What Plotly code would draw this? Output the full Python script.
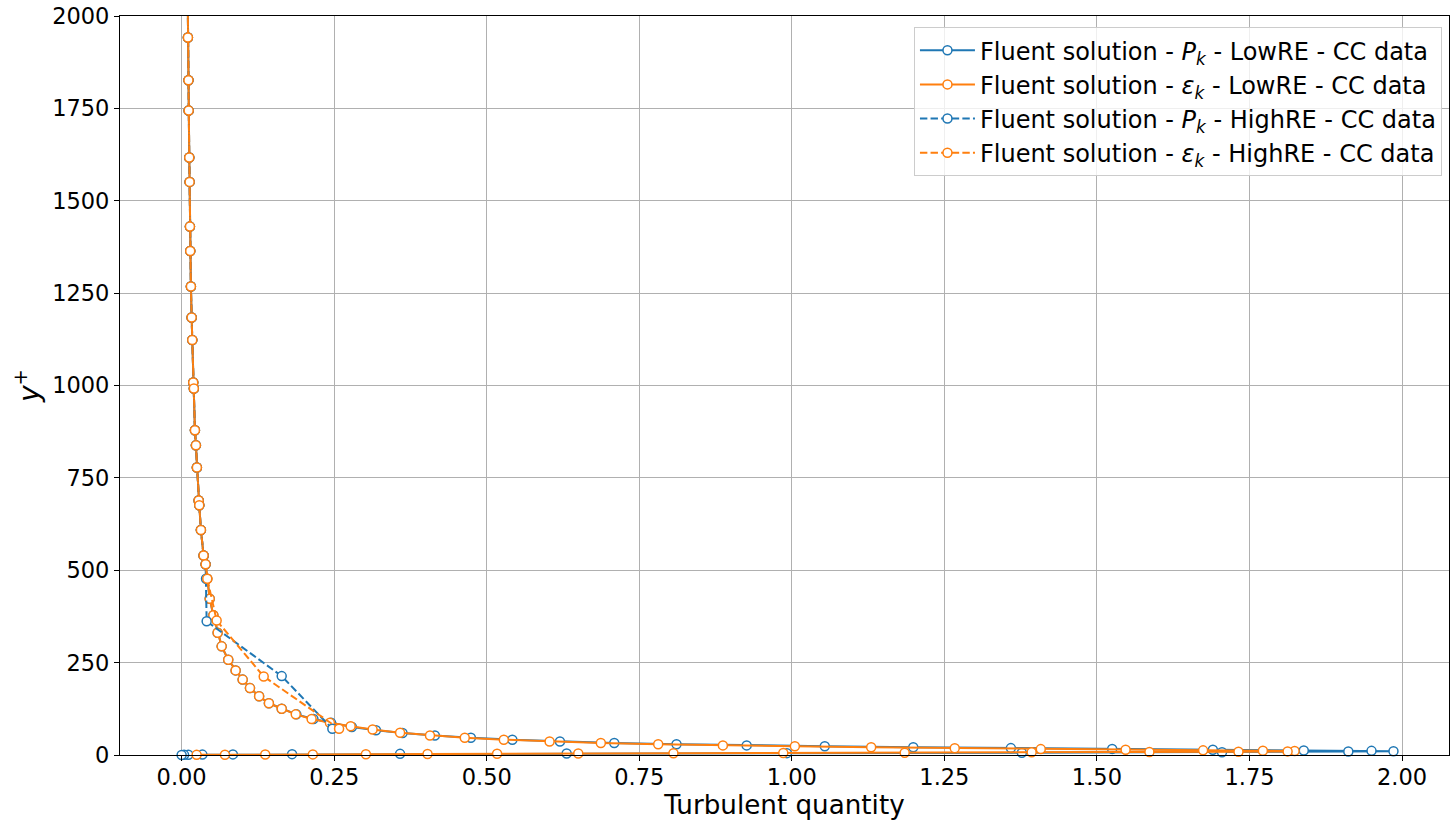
import plotly.graph_objects as go

# Far-field cells shared by every profile (y+ above ~500)
far_y = [2080, 1942, 1826, 1744, 1617, 1551, 1430, 1364, 1268, 1184, 1123,
         1008, 992, 879, 838, 778, 689, 676, 609, 540, 516]
far_x = [0.0098, 0.0103, 0.0112, 0.0115, 0.0125, 0.0131, 0.0136, 0.0141, 0.0152,
         0.0164, 0.0174, 0.0190, 0.0200, 0.0218, 0.0234, 0.0250, 0.0279, 0.0289,
         0.0316, 0.0360, 0.0393]

# LowRE mesh, production of k (near-wall part)
pk_low_y = [477, 423, 378, 331, 294, 258, 229, 204, 181, 159, 140, 125, 110, 97.5,
            87, 76, 67, 59.5, 53, 46.6, 41.5, 36.6, 32.5, 29.3, 26.0, 23.8, 21.0,
            18.7, 16.5, 14.4, 12.3, 11.2, 10.3, 9.4, 7.6, 6.2, 5.0, 4.0, 3.1, 2.3,
            1.6, 1.1, 0.7, 0.4, 0.2]
pk_low_x = [0.042, 0.046, 0.052, 0.059, 0.0656, 0.0764, 0.0885, 0.100, 0.112, 0.127,
            0.143, 0.164, 0.188, 0.216, 0.245, 0.279, 0.3185, 0.362, 0.415, 0.474,
            0.542, 0.620, 0.709, 0.811, 0.926, 1.054, 1.199, 1.359, 1.525, 1.690,
            1.839, 1.950, 1.986, 1.912, 1.705, 1.377, 0.992, 0.631, 0.358, 0.181,
            0.084, 0.034, 0.011, 0.004, 0.000]

# LowRE mesh, dissipation (near-wall part)
eps_low_y = [477, 423, 378, 331, 294, 258, 229, 204, 181, 159, 140, 125, 110, 97.5,
             87, 78, 69, 60, 53, 46.6, 41.5, 36.6, 32.5, 29.3, 26.0, 23.8, 21.0,
             18.5, 16.0, 14.2, 12.6, 11.5, 10.6, 9.8, 9.0, 8.1, 7.2, 6.3, 5.4, 4.6,
             3.9, 3.2, 2.6, 2.1, 1.6, 1.2, 0.8, 0.4]
eps_low_x = [0.042, 0.046, 0.052, 0.059, 0.0656, 0.0764, 0.0885, 0.100, 0.112, 0.127,
             0.143, 0.164, 0.187, 0.213, 0.243, 0.277, 0.313, 0.358, 0.407, 0.464,
             0.528, 0.603, 0.687, 0.781, 0.887, 1.005, 1.130, 1.267, 1.408, 1.547,
             1.674, 1.772, 1.824, 1.8125, 1.732, 1.586, 1.393, 1.185, 0.986, 0.806,
             0.650, 0.517, 0.403, 0.302, 0.215, 0.137, 0.071, 0.0246]

# HighRE mesh (wall functions), near-wall part
pk_high_y = [477, 362, 213.5, 71]
pk_high_x = [0.040, 0.041, 0.164, 0.247]
eps_high_y = [477, 364, 212.5, 71]
eps_high_x = [0.042, 0.0574, 0.1345, 0.258]

labels = [
    "Fluent solution - <i>P<sub>k</sub></i> - LowRE - CC data",
    "Fluent solution - <i>ε<sub>k</sub></i> - LowRE - CC data",
    "Fluent solution - <i>P<sub>k</sub></i> - HighRE - CC data",
    "Fluent solution - <i>ε<sub>k</sub></i> - HighRE - CC data",
]

BLUE = "#1f77b4"
ORANGE = "#ff7f0e"
DASHED = "7.4px,3.2px"

series = [
    (far_x + pk_low_x, far_y + pk_low_y, BLUE, "solid"),
    (far_x + eps_low_x, far_y + eps_low_y, ORANGE, "solid"),
    (far_x + pk_high_x, far_y + pk_high_y, BLUE, DASHED),
    (far_x + eps_high_x, far_y + eps_high_y, ORANGE, DASHED),
]

fig = go.Figure()
for i, ((xs, ys, col, dash), name) in enumerate(zip(series, labels)):
    fig.add_trace(go.Scatter(
        x=xs, y=ys, name=name, mode="lines+markers",
        legendgroup=f"g{i}",
        line=dict(color=col, width=2, dash=dash),
        marker=dict(symbol="circle", size=9, color="white",
                    line=dict(color=col, width=1.5)),
        cliponaxis=False,
    ))

axis_common = dict(
    ticks="outside", ticklen=5, tickwidth=1.1, tickcolor="black",
    showline=True, linecolor="black", linewidth=1.1, mirror=True,
    showgrid=True, gridcolor="#b0b0b0", gridwidth=1.1, zeroline=False,
    tickfont=dict(size=22.5),
)

fig.update_layout(
    width=1451, height=822,
    margin=dict(l=120, r=2, t=16, b=67),
    paper_bgcolor="white", plot_bgcolor="white",
    font=dict(family="DejaVu Sans", size=22, color="black"),
    xaxis=dict(
        range=[-0.101, 2.077],
        tickvals=[0, 0.25, 0.5, 0.75, 1.0, 1.25, 1.5, 1.75, 2.0],
        tickformat=".2f",
        ticklabelstandoff=-3,
        title=dict(text="Turbulent quantity", font=dict(size=26.2), standoff=5),
        **axis_common,
    ),
    yaxis=dict(
        range=[0, 2000],
        tickvals=[0, 250, 500, 750, 1000, 1250, 1500, 1750, 2000],
        title=dict(text="<i>y</i><sup>+</sup>", font=dict(size=28), standoff=4),
        **axis_common,
    ),
    legend=dict(
        x=0.9947, y=0.985, xanchor="right", yanchor="top",
        bgcolor="rgba(255,255,255,0.8)", bordercolor="#cccccc", borderwidth=1,
        font=dict(size=24), tracegroupgap=0, itemwidth=55,
        traceorder="grouped",
    ),
    showlegend=True,
)

fig.write_html("out.html")
